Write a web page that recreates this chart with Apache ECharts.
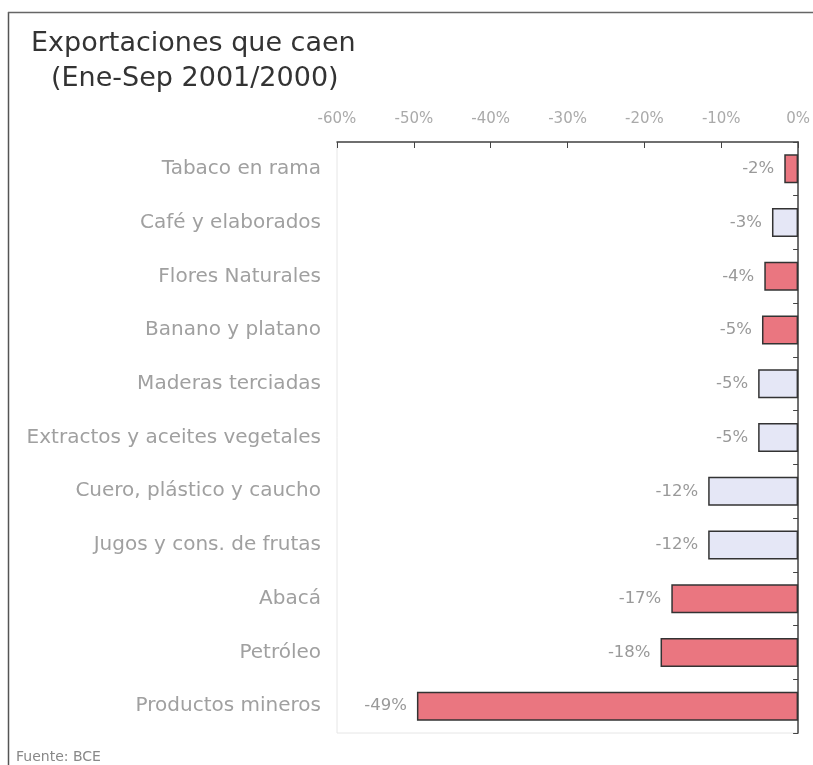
<!DOCTYPE html>
<html>
<head>
<meta charset="utf-8">
<script src="https://cdn.jsdelivr.net/npm/echarts@6/dist/echarts.min.js"></script>
<style>
  html, body { margin: 0; padding: 0; background: #fff; }
  #chart { width: 813px; height: 765px; }
</style>
</head>
<body>
<div id="chart"></div>
<script>
// datos
const categorias = [
  'Tabaco en rama', 'Café y elaborados', 'Flores Naturales', 'Banano y platano',
  'Maderas terciadas', 'Extractos y aceites vegetales', 'Cuero, plástico y caucho',
  'Jugos y cons. de frutas', 'Abacá', 'Petróleo', 'Productos mineros'
];
const variacion = [-1.8, -3.4, -4.4, -4.7, -5.2, -5.2, -11.7, -11.7, -16.5, -17.9, -49.6];
const etiquetas = ['-2%', '-3%', '-4%', '-5%', '-5%', '-5%', '-12%', '-12%', '-17%', '-18%', '-49%'];
const tipoColor = ['r', 'a', 'r', 'r', 'a', 'a', 'a', 'a', 'r', 'r', 'r'];

const colores = { r: '#ea7680', a: '#e5e7f6' };

const contenedor = document.getElementById('chart');
const miGrafico = echarts.init(contenedor, null, { renderer: 'canvas' });

const option = {
  animation: false,
  backgroundColor: '#fff',
  title: [
    {
      text: 'Exportaciones que caen',
      left: 26, top: 25,
      textStyle: { fontFamily: 'DejaVu Sans', fontSize: 27, fontWeight: 'normal', color: '#333' }
    },
    {
      text: '(Ene-Sep 2001/2000)',
      left: 46, top: 60,
      textStyle: { fontFamily: 'DejaVu Sans', fontSize: 27, fontWeight: 'normal', color: '#333' }
    },
    {
      text: 'Fuente: BCE',
      left: 11, top: 745,
      textStyle: { fontFamily: 'DejaVu Sans', fontSize: 14, fontWeight: 'normal', color: '#888' }
    }
  ],
  graphic: [
    { type: 'line', shape: { x1: 8.5, y1: 12, x2: 8.5, y2: 765 }, style: { stroke: '#555', lineWidth: 1.5 } },
    { type: 'line', shape: { x1: 8, y1: 12.5, x2: 813, y2: 12.5 }, style: { stroke: '#666', lineWidth: 1.5 } }
  ],
  grid: {
    left: 337, right: 12, top: 142, bottom: 32,
    show: true, borderColor: '#e6e6e6', borderWidth: 1
  },
  xAxis: {
    type: 'value',
    position: 'top',
    min: -60, max: 0, interval: 10,
    axisLine: { show: true, lineStyle: { color: '#444', width: 1.5 } },
    axisTick: { show: true, inside: true, length: 6, lineStyle: { color: '#444' } },
    splitLine: { show: false },
    axisLabel: {
      margin: 15,
      fontFamily: 'DejaVu Sans',
      fontSize: 15, color: '#aaa',
      formatter: v => v + '%'
    }
  },
  yAxis: [
    {
      type: 'category',
      data: categorias,
      inverse: true,
      position: 'left',
      axisLine: { show: false, onZero: false },
      axisTick: { show: false },
      axisLabel: { margin: 16, fontFamily: 'DejaVu Sans', fontSize: 20, color: '#a0a0a0' }
    },
    {
      type: 'category',
      data: categorias,
      inverse: true,
      position: 'right',
      axisLine: { show: true, onZero: false, lineStyle: { color: '#444', width: 1.5 } },
      axisTick: { show: true, inside: true, length: 5, lineStyle: { color: '#444' } },
      axisLabel: { show: false }
    }
  ],
  series: [
    {
      type: 'bar',
      yAxisIndex: 0,
      barWidth: 29,
      data: variacion.map((v, i) => ({
        value: v,
        itemStyle: { color: colores[tipoColor[i]], borderColor: '#333', borderWidth: 1.5 },
        label: { formatter: etiquetas[i] }
      })),
      label: {
        show: true,
        position: 'left',
        distance: 10,
        fontFamily: 'DejaVu Sans',
        fontSize: 16.5,
        color: '#999'
      }
    }
  ]
};

miGrafico.setOption(option);
</script>
</body>
</html>
